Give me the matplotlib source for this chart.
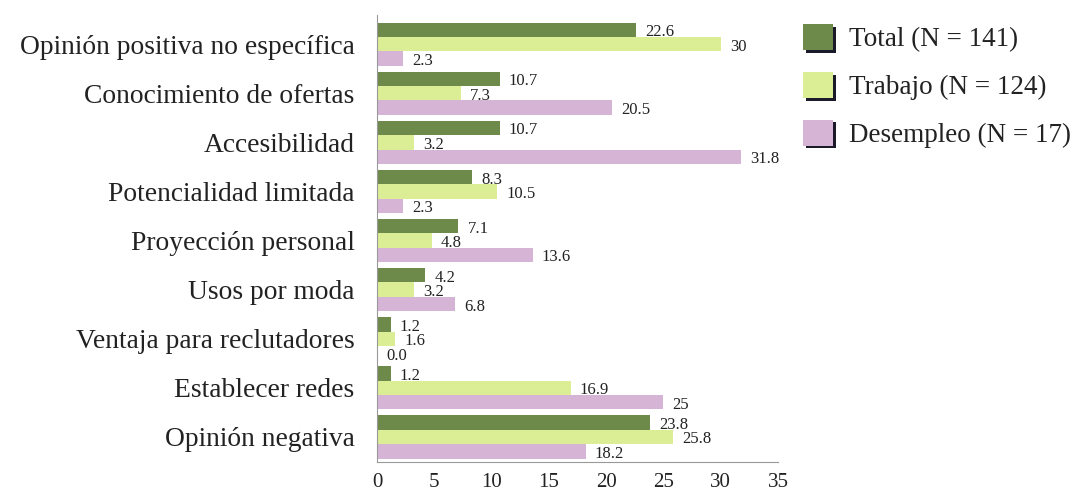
import matplotlib.pyplot as plt
import matplotlib.patheffects as pe
import numpy as np

categories = [
    "Opinión positiva no específica",
    "Conocimiento de ofertas",
    "Accesibilidad",
    "Potencialidad limitada",
    "Proyección personal",
    "Usos por moda",
    "Ventaja para reclutadores",
    "Establecer redes",
    "Opinión negativa",
]
total = [22.6, 10.7, 10.7, 8.3, 7.1, 4.2, 1.2, 1.2, 23.8]
trabajo = [30, 7.3, 3.2, 10.5, 4.8, 3.2, 1.6, 16.9, 25.8]
desempleo = [2.3, 20.5, 31.8, 2.3, 13.6, 6.8, 0.0, 25, 18.2]
total_lbl = ["22.6", "10.7", "10.7", "8.3", "7.1", "4.2", "1.2", "1.2", "23.8"]
trabajo_lbl = ["30", "7.3", "3.2", "10.5", "4.8", "3.2", "1.6", "16.9", "25.8"]
desempleo_lbl = ["2.3", "20.5", "31.8", "2.3", "13.6", "6.8", "0.0", "25", "18.2"]
series_names = ["Total (N = 141)", "Trabajo (N = 124)", "Desempleo (N = 17)"]
colors = ["#6e8a4b", "#dbed95", "#d6b4d6"]

plt.rcParams['font.family'] = ['Liberation Serif', 'DejaVu Serif']

fig = plt.figure(figsize=(10.77, 4.91), dpi=100)
ax = fig.add_axes([0.35, 0.059, 0.3724, 0.91])

y = np.arange(len(categories))
h = 0.293
handles = []
for i, (vals, lbls) in enumerate([(total, total_lbl), (trabajo, trabajo_lbl),
                                  (desempleo, desempleo_lbl)]):
    pos = y + (i - 1) * h
    bars = ax.barh(pos, vals, height=h, color=colors[i], label=series_names[i])
    handles.append(bars)
    for p, v, s in zip(pos, vals, lbls):
        ax.text(v + 0.8, p + 0.05, s, va="center", ha="left", fontsize=12, color="#222222")

ax.set_ylim(8.51, -0.59)
ax.set_xlim(0, 35)
ax.set_xticks(range(0, 36, 5))
ax.set_yticks(y)
ax.set_yticklabels(categories, fontsize=19.8, color="#222222")
ax.tick_params(axis="both", length=0)
ax.tick_params(axis="y", pad=16)
ax.tick_params(axis="x", labelsize=15, pad=8, labelcolor="#222222")
for s in ["top", "right"]:
    ax.spines[s].set_visible(False)
ax.spines["left"].set_color("#999999")
ax.spines["bottom"].set_color("#999999")

leg = fig.legend(handles=handles, labels=series_names, loc="upper left",
                 bbox_to_anchor=(0.7257, 0.995), frameon=False, fontsize=19.5,
                 handlelength=1.1, handleheight=1.1, labelspacing=0.72,
                 handletextpad=0.6, borderpad=0.3)
for p in leg.get_patches():
    p.set_path_effects([pe.SimplePatchShadow(offset=(2, -2), shadow_rgbFace="#1a1a2a", alpha=1.0),
                        pe.Normal()])
for t in leg.get_texts():
    t.set_color("#222222")

fig.savefig("out.png", dpi=100)
